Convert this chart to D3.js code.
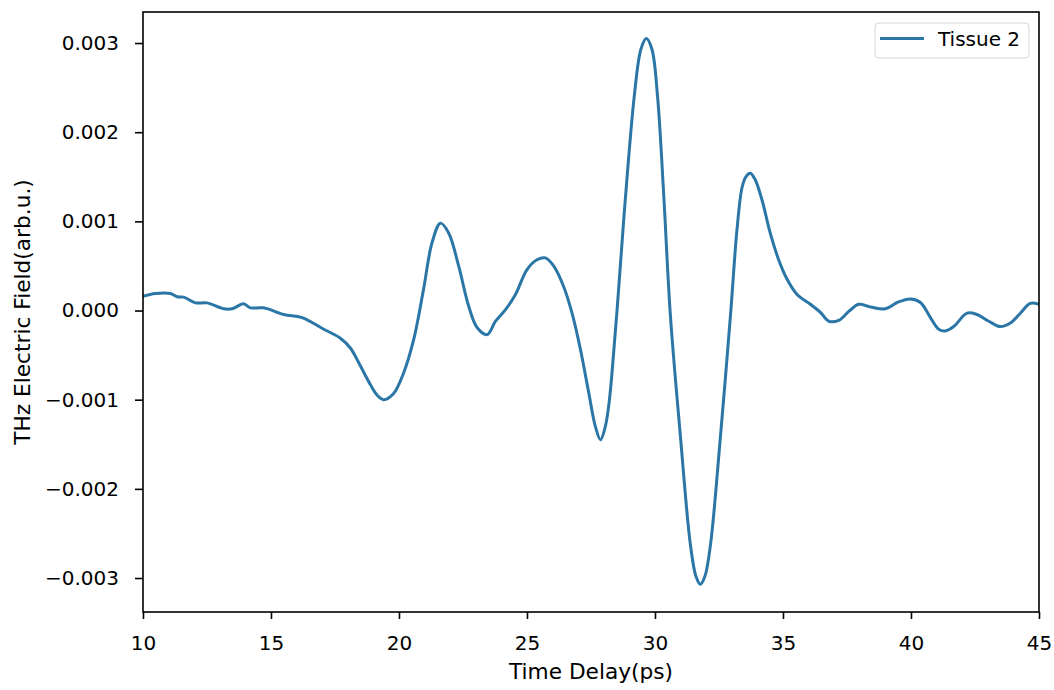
<!DOCTYPE html>
<html>
<head>
<meta charset="utf-8">
<script src="https://cdn.jsdelivr.net/npm/d3@7"></script>
<style>
  html, body { margin: 0; padding: 0; background: #fff; }
  svg text { font-family: "DejaVu Sans", sans-serif; fill: #000; }
</style>
</head>
<body>
<svg id="chart" width="1054" height="690"></svg>
<script>
// THz time-domain waveform, Tissue 2
const timeDelay = [
  10.0, 10.48, 11.07, 11.33, 11.59, 12.05, 12.5, 13.15, 13.48, 13.93, 14.2, 14.71,
  15.5, 16.21, 17.06, 17.71, 18.1, 18.49, 18.88, 19.15, 19.4, 19.79, 20.18, 20.57,
  20.96, 21.29, 21.62, 21.94, 22.33, 22.72, 23.05, 23.44, 23.77, 24.16, 24.55, 25.0,
  25.39, 25.72, 26.04, 26.43, 26.76, 27.09, 27.41, 27.67, 27.87, 28.06, 28.2, 28.32,
  28.52, 28.8, 29.2, 29.45, 29.66, 29.88, 30.1, 30.34, 30.6, 30.99, 31.38, 31.6,
  31.77, 31.95, 32.17, 32.56, 32.95, 33.2, 33.4, 33.55, 33.72, 33.91, 34.18, 34.5,
  34.83, 35.16, 35.55, 36.07, 36.46, 36.79, 37.18, 37.57, 37.96, 38.42, 39.0, 39.46,
  39.98, 40.37, 40.76, 41.08, 41.34, 41.67, 42.19, 42.58, 43.04, 43.49, 43.88, 44.27,
  44.66, 45.0
];
const field = [
  0.00016, 0.00019, 0.00019, 0.000155, 0.00015, 0.000086, 0.000086, 0.00002, 0.00002, 0.000075, 0.00003, 0.00003,
  -0.000045, -0.00008, -0.00021, -0.00031, -0.00042, -0.00062, -0.00083, -0.00095, -0.001, -0.00093, -0.0007, -0.00033,
  0.00024, 0.00076, 0.00098, 0.00087, 0.0005, 0.00005, -0.00019, -0.00027, -0.00012, 0.00001, 0.00018, 0.00046,
  0.00057, 0.00059, 0.0005, 0.00027, -0.00003, -0.00044, -0.00092, -0.0013, -0.00145, -0.0013, -0.00105, -0.0007,
  0.00001, 0.0011, 0.00243, 0.00293, 0.00305, 0.00293, 0.0024, 0.0013, -0.00005, -0.0014, -0.00262, -0.00298,
  -0.00307, -0.00298, -0.00262, -0.0014, -0.00005, 0.0009, 0.00138, 0.0015, 0.00154, 0.00147, 0.00124, 0.00087,
  0.00057, 0.00035, 0.00018, 0.00007, -0.00002, -0.00012, -0.00011, -0.00001, 0.00007, 0.00004, 0.00002, 0.00009,
  0.00013, 0.00009, -0.00008, -0.00021, -0.00023, -0.00018, -0.00003, -0.000045, -0.00012, -0.00018, -0.00014, -0.00003,
  0.00008, 0.00007
];
const xTicks = [10, 15, 20, 25, 30, 35, 40, 45];
const yTicks = [-0.003, -0.002, -0.001, 0, 0.001, 0.002, 0.003];
const seriesName = "Tissue 2";
const xLabel = "Time Delay(ps)";
const yLabel = "THz Electric Field(arb.u.)";

const svg = d3.select("#chart");
const plotLeft = 143, plotTop = 12, plotRight = 1039, plotBottom = 612;
const lineColor = "#2a76a6";

const x = d3.scaleLinear().domain([10, 45]).range([plotLeft, plotRight]);
const y = d3.scaleLinear().domain([-0.003381, 0.003348]).range([plotBottom, plotTop]);

const points = timeDelay.map((t, i) => [t, field[i]]);

svg.append("clipPath").attr("id", "plotClip")
  .append("rect").attr("x", plotLeft).attr("y", plotTop)
  .attr("width", plotRight - plotLeft).attr("height", plotBottom - plotTop);

svg.append("path")
  .datum(points)
  .attr("clip-path", "url(#plotClip)")
  .attr("fill", "none")
  .attr("stroke", lineColor)
  .attr("stroke-width", 3)
  .attr("stroke-linejoin", "round")
  .attr("stroke-linecap", "round")
  .attr("d", d3.line()
    .x(d => x(d[0]))
    .y(d => y(d[1]))
    .curve(d3.curveCatmullRom.alpha(0.5)));

const fmtY = v => (v < 0 ? "\u2212" : "") + d3.format(".3f")(Math.abs(v));

const xAxis = svg.append("g")
  .attr("transform", `translate(0,${plotBottom})`)
  .call(d3.axisBottom(x).tickValues(xTicks).tickFormat(d3.format("d")).tickSize(7).tickPadding(17));
const yAxis = svg.append("g")
  .attr("transform", `translate(${plotLeft},0)`)
  .call(d3.axisLeft(y).tickValues(yTicks).tickFormat(fmtY).tickSize(8).tickPadding(16));

[xAxis, yAxis].forEach(g => {
  g.select(".domain").remove();
  g.selectAll(".tick line").attr("stroke", "#000").attr("stroke-width", 1.6);
  g.selectAll(".tick text").attr("font-size", 20).attr("font-family", "DejaVu Sans, sans-serif").attr("fill", "#000");
});

// plot frame
svg.append("rect")
  .attr("x", plotLeft).attr("y", plotTop)
  .attr("width", plotRight - plotLeft).attr("height", plotBottom - plotTop)
  .attr("fill", "none").attr("stroke", "#000").attr("stroke-width", 1.6);

svg.append("text")
  .attr("x", (plotLeft + plotRight) / 2).attr("y", 679)
  .attr("text-anchor", "middle").attr("font-size", 21.7)
  .text(xLabel);

svg.append("text")
  .attr("transform", `translate(30,${(plotTop + plotBottom) / 2}) rotate(-90)`)
  .attr("text-anchor", "middle").attr("font-size", 21.7)
  .text(yLabel);

// legend
const lg = svg.append("g");
lg.append("rect")
  .attr("x", 875).attr("y", 23).attr("width", 154).attr("height", 35)
  .attr("rx", 4).attr("fill", "#fff").attr("fill-opacity", 0.8)
  .attr("stroke", "#d6d6d6").attr("stroke-width", 1);
lg.append("line")
  .attr("x1", 880).attr("x2", 924).attr("y1", 38.5).attr("y2", 38.5)
  .attr("stroke", lineColor).attr("stroke-width", 3);
lg.append("text")
  .attr("x", 938).attr("y", 46).attr("font-size", 20)
  .text(seriesName);
</script>
</body>
</html>
